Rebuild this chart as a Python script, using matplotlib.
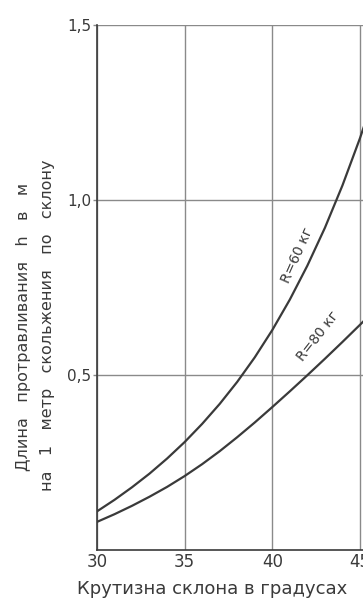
import matplotlib
matplotlib.use('Agg')
import matplotlib.pyplot as plt

# slope angle, degrees
angle = [30, 31, 32, 33, 34, 35, 36, 37, 38, 39, 40, 41, 42, 43, 44, 45, 45.5]
# h per 1 m of sliding, R = 60 kg
h_60 = [0.110, 0.143, 0.179, 0.218, 0.261, 0.308, 0.360, 0.417, 0.480, 0.550,
        0.628, 0.715, 0.812, 0.920, 1.041, 1.176, 1.25]
# h per 1 m of sliding, R = 80 kg
h_80 = [0.080, 0.102, 0.126, 0.152, 0.180, 0.211, 0.245, 0.282, 0.322, 0.364,
        0.408, 0.453, 0.499, 0.546, 0.594, 0.643, 0.668]

x_ticks = [30, 35, 40, 45]
y_ticks = [0.5, 1.0, 1.5]
y_tick_labels = ['0,5', '1,0', '1,5']

ink = '#3a3a3a'
grid_col = '#8a8a8a'

fig = plt.figure(figsize=(3.63, 6.03), dpi=100)
ax = fig.add_axes([0.267, 0.088, 0.773, 0.871])

ax.plot(angle, h_60, color=ink, lw=1.6)
ax.plot(angle, h_80, color=ink, lw=1.6)

ax.set_xlim(30, 46)
ax.set_ylim(0, 1.5)
ax.set_xticks(x_ticks)
ax.set_xticklabels([str(v) for v in x_ticks])
ax.set_yticks(y_ticks)
ax.set_yticklabels(y_tick_labels)
ax.tick_params(axis='x', colors=ink, labelsize=12, length=0, pad=2)
ax.tick_params(axis='y', colors=ink, labelsize=11, length=3, color=grid_col,
               width=1, pad=1)

ax.grid(True, color=grid_col, lw=1)
for s in ['top', 'right']:
    ax.spines[s].set_visible(False)
for s in ['left', 'bottom']:
    ax.spines[s].set_color(ink)
    ax.spines[s].set_linewidth(1.2)

ax.text(41.45, 0.84, 'R=60 кг', rotation=66, ha='center', va='center',
        fontsize=10, color=ink)
ax.text(42.6, 0.61, 'R=80 кг', rotation=52, ha='center', va='center',
        fontsize=10, color=ink)

fig.text(24 / 363, 1 - 327 / 603, 'Длина   протравливания   h   в   м', rotation=90,
         ha='center', va='center', fontsize=11.5, color=ink)
fig.text(48 / 363, 1 - 325 / 603, 'на   1   метр   скольжения   по   склону',
         rotation=90, ha='center', va='center', fontsize=11.5, color=ink)
fig.text(77 / 363, 1 - 589 / 603, 'Крутизна склона в градусах', ha='left',
         va='center', fontsize=13, color=ink)

fig.savefig('out.png', dpi=100, facecolor='white')
